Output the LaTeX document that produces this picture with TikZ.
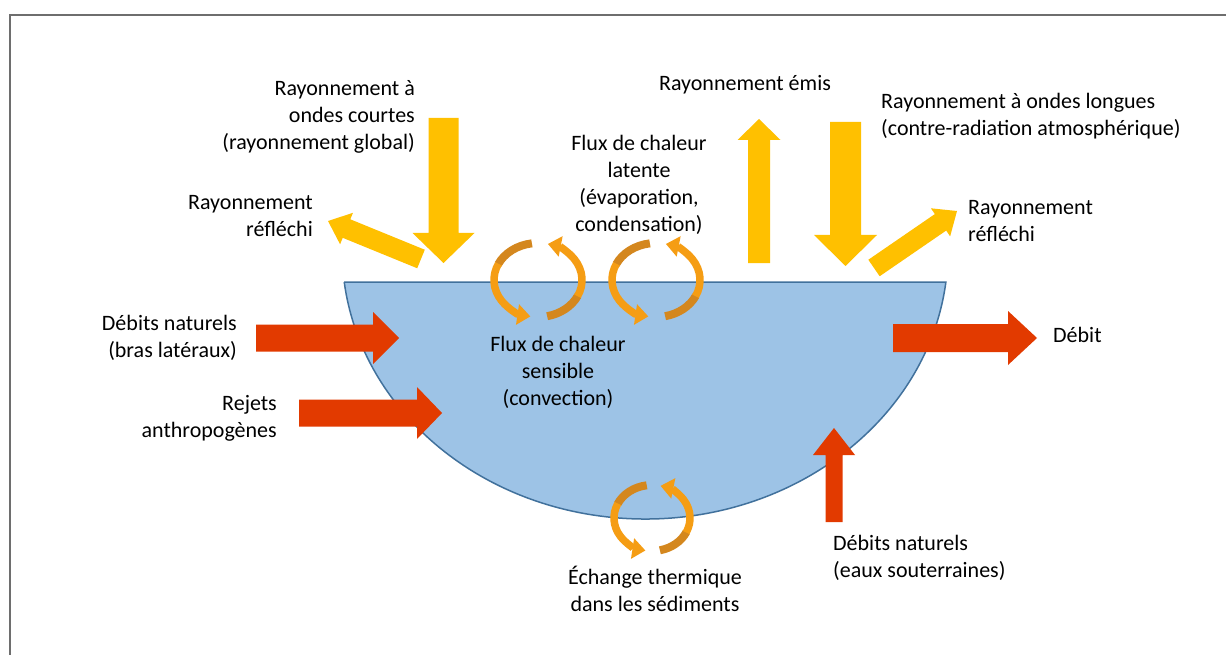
\documentclass[tikz,border=0pt]{standalone}
\usepackage{fontspec}
\setmainfont{Carlito}
\usetikzlibrary{calc,arrows.meta}
\definecolor{sunyellow}{HTML}{FFC000}
\definecolor{flowred}{HTML}{E23A00}
\definecolor{waterfill}{HTML}{9DC3E6}
\definecolor{waterline}{HTML}{41719C}
\definecolor{orlight}{HTML}{F59D14}
\definecolor{ordark}{HTML}{D4871E}
\definecolor{framegray}{HTML}{6E6E6E}
\newcommand{\blockarrow}[6]{%
  \path #1 coordinate (ba-s) #2 coordinate (ba-t);
  \path ($(ba-t)!#5!(ba-s)$) coordinate (ba-h);
  \fill[#6] ($(ba-s)!#3!90:(ba-t)$) -- ($(ba-h)!#3!-90:(ba-s)$) -- ($(ba-h)!#4!-90:(ba-s)$) -- (ba-t)
    -- ($(ba-h)!#4!90:(ba-s)$) -- ($(ba-h)!#3!90:(ba-s)$) -- ($(ba-s)!#3!-90:(ba-t)$) -- cycle;}
\newcommand{\cyclearrows}[4]{% center x, center y, rx, ry
  \draw[ribdark] ($(#1,#2)+(262:#3 and #4)$) arc[start angle=262,end angle=205,x radius=#3,y radius=#4];
  \draw[riblight] ($(#1,#2)+(206:#3 and #4)$) arc[start angle=206,end angle=100,x radius=#3,y radius=#4];
  \draw[ribdark] ($(#1,#2)+(78:#3 and #4)$) arc[start angle=78,end angle=25,x radius=#3,y radius=#4];
  \draw[riblight] ($(#1,#2)+(26:#3 and #4)$) arc[start angle=26,end angle=-77,x radius=#3,y radius=#4];}
\tikzset{
  lbl/.style={inner sep=0pt, font=\fontsize{22}{27}\selectfont},
  ribdark/.style={draw=ordark, line width=8pt},
  riblight/.style={draw=orlight, line width=7.5pt, -{Triangle[width=20pt,length=13pt]}},
}
\begin{document}
\begin{tikzpicture}[x=1pt,y=-1pt]
\useasboundingbox (0,0) rectangle (1226,655);
\fill[white] (0,0) rectangle (1226,655);
\draw[framegray, line width=2.5pt] (10,655) -- (10,15) -- (1226,15);
% water body
\draw[fill=waterfill, draw=waterline, line width=1.5pt] (344.2,282) -- (945.9,282)
  arc[start angle=6.83, end angle=173.17, x radius=303, y radius=269] -- cycle;
% yellow radiation arrows
\blockarrow{(443.5,118)}{(443.5,263)}{15pt}{31pt}{30pt}{sunyellow}
\blockarrow{(421,259)}{(328,221)}{10pt}{17pt}{20pt}{sunyellow}
\blockarrow{(759,263)}{(759,119)}{11pt}{21.5pt}{21pt}{sunyellow}
\blockarrow{(845.5,122)}{(845.5,266)}{15.5pt}{31.5pt}{31pt}{sunyellow}
\blockarrow{(874,268)}{(957,211)}{10pt}{17pt}{20pt}{sunyellow}
% red flow arrows
\blockarrow{(256,338)}{(399,338)}{13.5pt}{26pt}{26pt}{flowred}
\blockarrow{(299,413)}{(442,413)}{13.5pt}{26pt}{25pt}{flowred}
\blockarrow{(893,338)}{(1037,338)}{14pt}{27pt}{29pt}{flowred}
\blockarrow{(834,522)}{(834,428)}{8.5pt}{21pt}{27pt}{flowred}
% circulation arrows
\cyclearrows{538}{280}{44}{37}
\cyclearrows{656}{280}{44}{37}
\cyclearrows{652}{518}{38}{33}
% labels
\node[lbl, anchor=north east, align=right] (sw) at (415,76) {\strut Rayonnement à\\ondes courtes\\(rayonnement global)};
\node[lbl, anchor=north east, align=right] (refl) at (313,190) {\strut Rayonnement\\réfléchi};
\node[lbl, anchor=north, align=center] (lat) at (639,131) {\strut Flux de chaleur\\latente\\(évaporation,\\condensation)};
\node[lbl, anchor=north] (emis) at (745,71) {\strut Rayonnement émis};
\node[lbl, anchor=north west, align=left] (lw) at (881,89) {\strut Rayonnement à ondes longues\\(contre-radiation atmosphérique)};
\node[lbl, anchor=north west, align=left] (refr) at (968,195) {\strut Rayonnement\\réfléchi};
\node[lbl, anchor=north east, align=right] (nat) at (237,311) {\strut Débits naturels\\(bras latéraux)};
\node[lbl, anchor=north east, align=right] (rej) at (277,391) {\strut Rejets\\anthropogènes};
\node[lbl, anchor=north, align=center] (sens) at (558,332) {\strut Flux de chaleur\\sensible\\(convection)};
\node[lbl, anchor=north west] (deb) at (1053,323) {\strut Débit};
\node[lbl, anchor=north west, align=left] (sout) at (833,531) {\strut Débits naturels\\(eaux souterraines)};
\node[lbl, anchor=north, align=center] (sed) at (655,565) {\strut Échange thermique\\dans les sédiments};
\end{tikzpicture}
\end{document}
